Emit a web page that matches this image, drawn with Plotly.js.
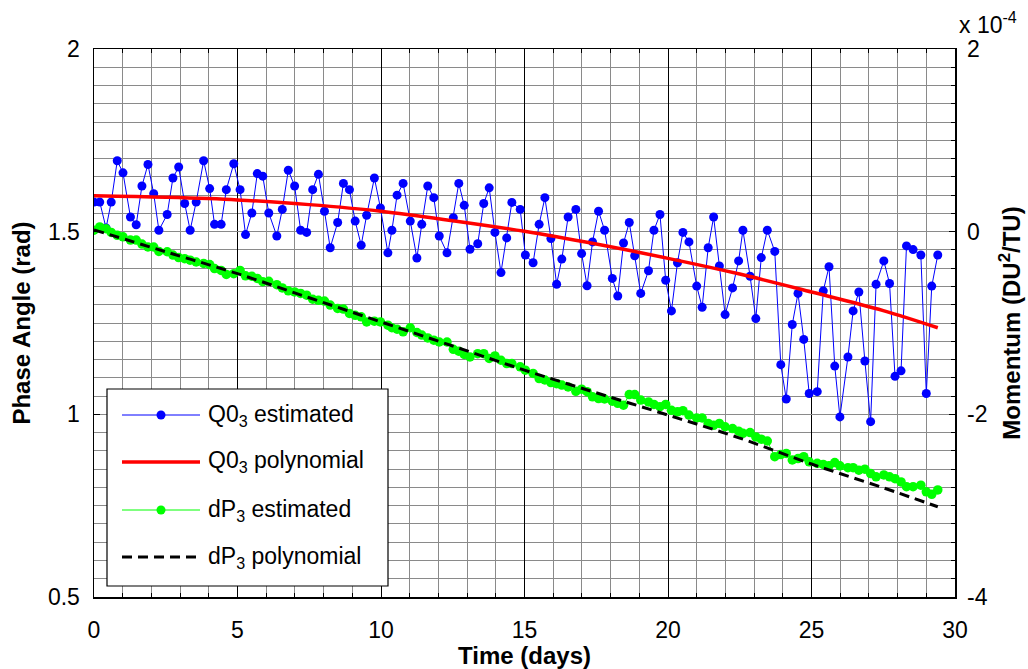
<!DOCTYPE html>
<html>
<head>
<meta charset="utf-8">
<script src="https://cdn.plot.ly/plotly-3.0.1.min.js"></script>
<style>html,body{margin:0;padding:0;background:#fff;}#chart{width:1028px;height:669px;}</style>
</head>
<body>
<div id="chart"></div>
<script>
// Time (days) for the estimated samples
const timeDays = [0.00,0.20,0.42,0.60,0.81,1.01,1.27,1.47,1.67,1.88,2.08,2.26,2.55,2.75,2.95,3.16,3.35,3.56,3.82,4.03,4.20,4.43,4.61,4.87,5.09,5.28,5.50,5.69,5.88,6.09,6.37,6.56,6.77,6.99,7.20,7.41,7.62,
7.82,8.03,8.23,8.49,8.69,8.90,9.10,9.31,9.50,9.77,9.98,10.24,10.38,10.56,10.77,11.02,11.25,11.42,11.63,11.84,12.03,12.30,12.52,12.71,12.90,13.10,13.37,13.58,13.77,13.97,14.18,14.38,14.56,14.85,15.03,
15.30,15.51,15.71,15.92,16.12,16.30,16.52,16.79,16.99,17.18,17.37,17.58,17.79,18.06,18.25,18.45,18.65,18.84,19.05,19.32,19.51,19.72,19.92,20.12,20.33,20.52,20.73,21.00,21.19,21.40,21.59,21.79,21.99,22.25,22.46,22.61,
22.86,23.06,23.25,23.46,23.72,23.93,24.12,24.33,24.53,24.73,24.92,25.20,25.41,25.61,25.81,25.99,26.27,26.45,26.65,26.86,27.06,27.25,27.52,27.72,27.91,28.12,28.31,28.54,28.81,29.00,29.19,29.40];

// Q0_3 estimated (rad)
const q0Estimated = [1.581,1.581,1.510,1.581,1.694,1.661,1.540,1.519,1.625,1.684,1.604,1.504,1.547,1.647,1.677,1.577,1.504,1.581,1.694,1.618,1.520,1.520,1.615,1.686,1.615,1.492,1.551,1.659,1.652,1.551,1.488,1.561,1.668,1.625,1.504,1.498,1.615,
1.657,1.556,1.456,1.525,1.632,1.615,1.529,1.463,1.545,1.647,1.565,1.442,1.504,1.600,1.632,1.529,1.428,1.520,1.625,1.593,1.488,1.442,1.538,1.632,1.572,1.452,1.467,1.577,1.620,1.498,1.388,1.483,1.580,1.561,1.436,
1.415,1.520,1.593,1.481,1.356,1.425,1.540,1.561,1.440,1.352,1.472,1.556,1.504,1.372,1.324,1.469,1.525,1.434,1.331,1.393,1.504,1.547,1.367,1.283,1.415,1.498,1.472,1.351,1.293,1.456,1.540,1.406,1.273,1.346,1.420,1.504,
1.378,1.262,1.429,1.504,1.446,1.136,1.042,1.246,1.331,1.205,1.057,1.062,1.338,1.404,1.132,0.993,1.157,1.283,1.335,1.146,0.980,1.356,1.420,1.358,1.104,1.119,1.461,1.451,1.436,1.057,1.351,1.436];

// dP_3 estimated (x 1e-4 DU^2/TU)
const dpEstimated = [0.016,0.052,0.032,-0.008,-0.040,-0.056,-0.092,-0.092,-0.136,-0.168,-0.168,-0.216,-0.220,-0.256,-0.284,-0.296,-0.312,-0.332,-0.348,-0.360,-0.404,-0.424,-0.468,-0.460,-0.424,-0.484,-0.488,-0.512,-0.548,-0.544,-0.580,-0.616,-0.648,-0.660,-0.676,-0.696,-0.740,
-0.752,-0.760,-0.804,-0.840,-0.848,-0.896,-0.916,-0.932,-0.988,-0.980,-0.988,-1.024,-1.052,-1.068,-1.096,-1.052,-1.104,-1.132,-1.164,-1.188,-1.208,-1.208,-1.288,-1.308,-1.344,-1.372,-1.336,-1.336,-1.388,-1.360,-1.408,-1.444,-1.444,-1.480,-1.516,
-1.552,-1.608,-1.624,-1.652,-1.664,-1.680,-1.700,-1.748,-1.724,-1.752,-1.808,-1.828,-1.832,-1.856,-1.880,-1.900,-1.784,-1.784,-1.844,-1.864,-1.892,-1.916,-1.892,-1.956,-1.972,-1.960,-2.008,-2.040,-2.040,-2.100,-2.120,-2.100,-2.136,-2.156,-2.184,-2.208,
-2.200,-2.248,-2.272,-2.292,-2.464,-2.440,-2.428,-2.500,-2.484,-2.464,-2.520,-2.536,-2.548,-2.564,-2.528,-2.564,-2.584,-2.584,-2.612,-2.600,-2.648,-2.684,-2.664,-2.684,-2.704,-2.740,-2.792,-2.792,-2.776,-2.848,-2.876,-2.828];

// Polynomial fits
const polyTime = [0,2.5,5,7.5,10,12.5,15,17.5,20,22.5,25,27.5,29.4];
const q0Polynomial = [1.598,1.594,1.587,1.574,1.556,1.530,1.501,1.466,1.427,1.384,1.335,1.284,1.237];
const dpPolynomial = [0.020,-0.220,-0.460,-0.724,-0.988,-1.252,-1.516,-1.764,-2.008,-2.260,-2.544,-2.804,-3.012];

// Tick labels
const xTicks = [0,5,10,15,20,25,30];
const yTicks = [0.5,1,1.5,2];
const y2TickVals = [-4,-2,0,2];
const y2TickText = ['-4','-2','0','2'];

const seriesNames = ['Q0<sub>3</sub> estimated','Q0<sub>3</sub> polynomial','dP<sub>3</sub> estimated','dP<sub>3</sub> polynomial'];

const FONT = 'Liberation Sans, Arial, Helvetica, sans-serif';
const GRID = '#8a8a8a';

const traces = [
  {x: timeDays, y: q0Estimated, type:'scatter', mode:'lines+markers', name: seriesNames[0],
   line:{color:'#0000ff', width:1}, marker:{color:'#0000ff', size:9}, yaxis:'y', showlegend:false},
  {x: polyTime, y: q0Polynomial, type:'scatter', mode:'lines', name: seriesNames[1],
   line:{color:'#ff0000', width:3.5, shape:'spline'}, yaxis:'y', showlegend:false},
  {x: timeDays, y: dpEstimated, type:'scatter', mode:'lines+markers', name: seriesNames[2],
   line:{color:'#00ff00', width:1}, marker:{color:'#00ff00', size:9.5}, yaxis:'y2', showlegend:false},
  {x: polyTime, y: dpPolynomial, type:'scatter', mode:'lines', name: seriesNames[3],
   line:{color:'#000000', width:3, dash:'10px,6px', shape:'spline'}, yaxis:'y2', showlegend:false}
];

// plot area in px: left 94, right 955, top 49, bottom 597
const L=94, R=955, T=49, B=597, W=R-L, H=B-T;
const px = v => (v-L)/W;
const py = v => (B-v)/H;

const shapes = [];
const annotations = [];
// legend box
shapes.push({type:'rect', xref:'paper', yref:'paper', x0:px(107), x1:px(388), y0:py(586), y1:py(389),
  fillcolor:'#ffffff', line:{color:'#000000', width:1.2}, layer:'above'});
const rowsY = [415, 462, 510, 557];
const legendStyles = [
  {color:'#0000ff', width:1, dash:'solid', marker:9},
  {color:'#ff0000', width:3.5, dash:'solid', marker:0},
  {color:'#00ff00', width:1, dash:'solid', marker:9},
  {color:'#000000', width:3, dash:'10px,6px', marker:0}
];
rowsY.forEach((ry,i)=>{
  const st = legendStyles[i];
  shapes.push({type:'line', xref:'paper', yref:'paper', x0:px(122), x1:px(200), y0:py(ry), y1:py(ry),
    line:{color:st.color, width:st.width, dash:st.dash}, layer:'above'});
  if (st.marker){
    shapes.push({type:'circle', xref:'paper', yref:'paper', xsizemode:'pixel', ysizemode:'pixel',
      xanchor:px(161), yanchor:py(ry), x0:-4.5, x1:4.5, y0:-4.5, y1:4.5,
      fillcolor:st.color, line:{color:st.color, width:0}, layer:'above'});
  }
  annotations.push({xref:'paper', yref:'paper', x:px(206), y:py(ry), xanchor:'left', yanchor:'middle',
    text: seriesNames[i], showarrow:false, font:{family:FONT, size:23, color:'#000'}});
});
// exponent label for right axis
annotations.push({xref:'paper', yref:'paper', x:px(957), y:py(40), xanchor:'left', yanchor:'bottom',
  text:'x 10<sup>-4</sup>', showarrow:false, font:{family:FONT, size:23, color:'#000'}});

const layout = {
  width:1028, height:669,
  margin:{l:L, r:1028-R, t:T, b:669-B, pad:0},
  paper_bgcolor:'#ffffff', plot_bgcolor:'#ffffff',
  font:{family:FONT, size:23, color:'#000'},
  showlegend:false,
  xaxis:{
    range:[0,30], tickvals:xTicks, ticktext:xTicks.map(String),
    showgrid:true, gridcolor:'#000000', gridwidth:1,
    minor:{dtick:1, tick0:0, showgrid:true, gridcolor:GRID, gridwidth:1, ticks:'inside', ticklen:4, tickcolor:'#000'},
    ticks:'inside', ticklen:6, tickcolor:'#000',
    showline:true, linecolor:'#000', linewidth:1.5, mirror:'ticks',
    zeroline:false, ticklabelstandoff:12,
    title:{text:'<b>Time (days)</b>', font:{family:FONT, size:24, color:'#000'}, standoff:6},
    automargin:false
  },
  yaxis:{
    range:[0.5,2], tickvals:yTicks, ticktext:['0.5','1','1.5','2'],
    showgrid:true, gridcolor:GRID, gridwidth:1,
    minor:{dtick:0.05, tick0:0.5, showgrid:true, gridcolor:GRID, gridwidth:1},
    ticks:'inside', ticklen:6, tickcolor:'#000',
    showline:true, linecolor:'#000', linewidth:1.5, mirror:true,
    zeroline:false, ticklabelstandoff:8,
    title:{text:'<b>Phase Angle (rad)</b>', font:{family:FONT, size:24, color:'#000'}, standoff:10},
    automargin:false
  },
  yaxis2:{
    overlaying:'y', side:'right', range:[-4,2], tickvals:y2TickVals, ticktext:y2TickText,
    showgrid:false, zeroline:false,
    ticks:'inside', ticklen:6, tickcolor:'#000',
    minor:{dtick:0.2, tick0:0, ticks:'inside', ticklen:4, tickcolor:'#000', showgrid:false},
    showline:true, linecolor:'#000', linewidth:1.5,
    ticklabelstandoff:6,
    title:{text:'<b>Momentum (DU<sup>2</sup>/TU)</b>', font:{family:FONT, size:24, color:'#000'}, standoff:16},
    automargin:false
  },
  shapes: shapes,
  annotations: annotations
};

Plotly.newPlot('chart', traces, layout, {displayModeBar:false, staticPlot:true});
</script>
</body>
</html>
